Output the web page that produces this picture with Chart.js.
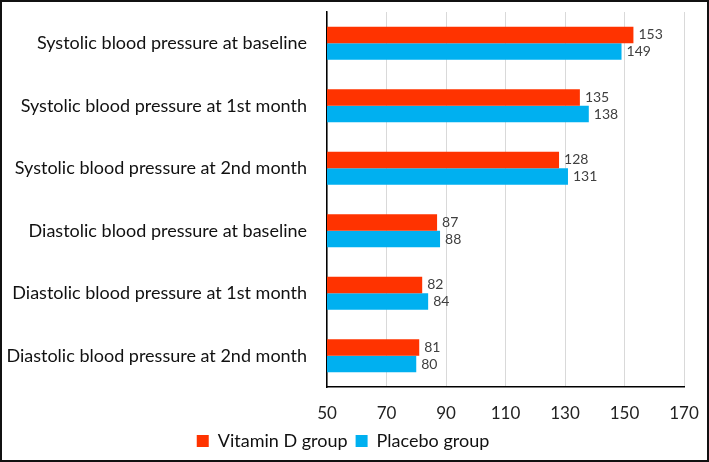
<!DOCTYPE html>
<html lang="en">
<head>
    <meta charset="UTF-8">
    <title>Blood pressure: Vitamin D vs Placebo</title>
    <script src="https://cdn.jsdelivr.net/npm/chart.js"></script>
    <style>
        body { margin: 0; background: #fff; }
        .frame { width: 709px; height: 462px; box-sizing: border-box; border: 2px solid #111; position: relative; }
        canvas { display: block; }
    </style>
</head>
<body>
    <div class="frame"><canvas id="bpChart" width="705" height="458"></canvas></div>

    <script>
        const categories = [
            'Systolic blood pressure at baseline',
            'Systolic blood pressure at 1st month',
            'Systolic blood pressure at 2nd month',
            'Diastolic blood pressure at baseline',
            'Diastolic blood pressure at 1st month',
            'Diastolic blood pressure at 2nd month'
        ];
        const vitaminD = [153, 135, 128, 87, 82, 81];
        const placebo = [149, 138, 131, 88, 84, 80];
        const xTicks = [50, 70, 90, 110, 130, 150, 170];

        const FONT = 'Lato, "Open Sans", sans-serif';

        // value labels at the end of each bar
        const barValues = {
            id: 'barValues',
            afterDatasetsDraw(chart) {
                const ctx = chart.ctx;
                ctx.save();
                ctx.font = '14px ' + FONT;
                ctx.fillStyle = '#404040';
                ctx.textBaseline = 'middle';
                ctx.textAlign = 'left';
                chart.data.datasets.forEach((ds, i) => {
                    chart.getDatasetMeta(i).data.forEach((bar, j) => {
                        ctx.fillText(ds.data[j], bar.x + 5, bar.y);
                    });
                });
                ctx.restore();
            }
        };

        new Chart(document.getElementById('bpChart'), {
            type: 'bar',
            data: {
                labels: categories,
                datasets: [
                    { label: 'Vitamin D group', data: vitaminD, backgroundColor: '#FF3300', categoryPercentage: 0.53, barPercentage: 1 },
                    { label: 'Placebo group', data: placebo, backgroundColor: '#00B0F0', categoryPercentage: 0.53, barPercentage: 1 }
                ]
            },
            options: {
                indexAxis: 'y',
                responsive: false,
                animation: false,
                layout: { padding: { top: 10, right: 23, left: 0, bottom: 0 } },
                scales: {
                    x: {
                        min: 50, max: 170,
                        afterBuildTicks: s => { s.ticks = xTicks.map(v => ({ value: v })); },
                        afterFit: s => { s.height = 37; s.paddingLeft = 0; s.paddingRight = 0; },
                        grid: { color: '#d9d9d9', drawTicks: false },
                        border: { color: '#000', width: 1.5 },
                        ticks: { padding: 16, color: '#222', font: { family: FONT, size: 17 } }
                    },
                    y: {
                        afterFit: s => { s.width = 325; s.paddingTop = 0; s.paddingBottom = 0; },
                        grid: { display: false, drawTicks: false },
                        border: { color: '#000', width: 1.5 },
                        ticks: { padding: 20, color: '#111', font: { family: FONT, size: 18 } }
                    }
                },
                plugins: {
                    legend: {
                        position: 'bottom',
                        labels: { boxWidth: 12, boxHeight: 12, padding: 8, color: '#111', font: { family: FONT, size: 18 } }
                    },
                    tooltip: { enabled: false }
                }
            },
            plugins: [barValues]
        });
    </script>
</body>
</html>
